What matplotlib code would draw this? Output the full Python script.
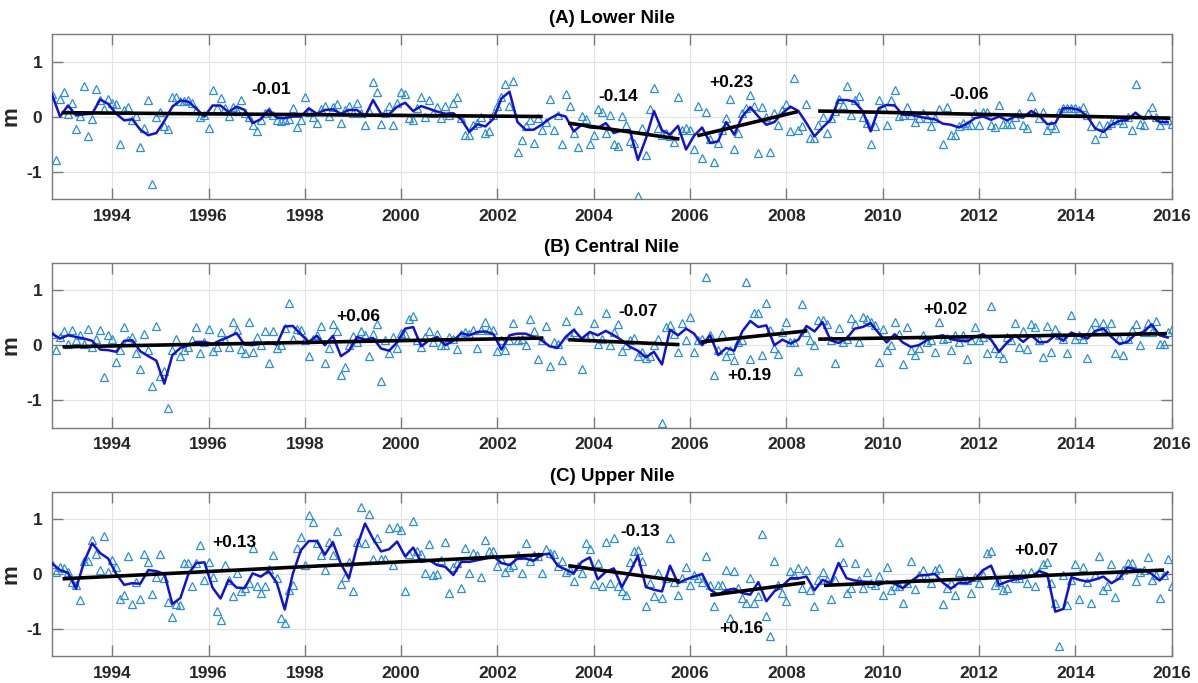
import numpy as np
import matplotlib.pyplot as plt

plt.rcParams['font.family'] = ['Liberation Sans', 'DejaVu Sans']
plt.rcParams['font.weight'] = 'bold'
plt.rcParams['axes.unicode_minus'] = False

START = 1992.75  # first month of the record (decimal year)

# ---- (A) Lower Nile ----
lower_line = [
    0.40, 0.0, 0.20, 0.02, 0.04, 0.05, 0.31, 0.23, 0.05, -0.07, -0.05, -0.24, -0.34, -0.30, -0.08, 0.18,
    0.29, 0.27, 0.14, 0.0, 0.20, 0.20, 0.08, 0.18, 0.12, -0.12, -0.05, 0.12, -0.02, -0.03, 0.0, 0.0,
    0.15, 0.05, 0.12, 0.13, 0.05, 0.12, 0.12, 0.0, 0.30, 0.05, 0.04, 0.18, 0.25, 0.10,
    0.19, 0.14, 0.09, 0.05, 0.06, -0.05, -0.28, -0.14, -0.18, -0.04, 0.33, 0.45, -0.10, -0.24, -0.24, -0.15,
    -0.04, 0.04, 0.0, -0.27, -0.15, -0.20, -0.21, -0.12, -0.30, -0.25, -0.25, -0.79, -0.40, 0.10, -0.25, -0.33,
    -0.17, -0.60, -0.35, -0.20, -0.48, -0.45, -0.10, -0.33, 0.0, 0.17, 0.0, -0.15, -0.10, 0.06, 0.18, 0.10,
    -0.12, -0.36, -0.20,
    -0.06, 0.30, 0.30, 0.27, 0.10, -0.27, 0.15, 0.21, 0.20, 0.03, 0.03, 0.0, -0.03, -0.05, -0.13, -0.15,
    -0.20, -0.13, -0.03, 0.0, -0.06, 0.0, -0.07, 0.0, -0.02, 0.10, 0.02, -0.14, -0.12, 0.15, 0.15, 0.12,
    0.0, -0.22, -0.28, -0.15, -0.08, -0.06, 0.07, -0.05, 0.0, -0.10, -0.10]
lower_tri = [
    0.41, -0.79, 0.32, 0.44, 0.04, 0.25, -0.22, 0.01, 0.56, -0.36, -0.04, 0.50, 0.30, 0.13, 0.32, 0.25,
    0.22, -0.50, 0.12, 0.18, -0.06, 0.01, -0.56, -0.20, 0.30, -1.22, -0.01, 0.08, -0.17, -0.22, 0.35, 0.36,
    0.29, 0.29, 0.30, 0.25, 0.12, 0.0, 0.02, -0.21, 0.48, 0.15, 0.34, 0.15, 0.01, 0.18, 0.10, 0.30,
    0.07, 0.0, -0.15, -0.27, -0.06, 0.06, 0.10, 0.03, -0.07, -0.09, -0.07, -0.04, 0.15, -0.19, -0.06, 0.36,
    0.09, 0.0, -0.12, 0.13, 0.19, 0.01, 0.18, 0.23, -0.12, 0.12, 0.19, 0.06, 0.25, 0.06, -0.15, 0.10,
    0.62, 0.45, -0.13, 0.06, 0.19, -0.16, 0.25, 0.45, 0.41, -0.03, -0.06,
    0.15, 0.35, 0.0, 0.30, 0.06, 0.18, -0.03, 0.19, 0.03, 0.24, 0.35, -0.03, -0.33, -0.33, -0.15, -0.12,
    0.0, -0.30, -0.27, 0.03, 0.20, 0.35, 0.59, 0.19, 0.64, -0.65, -0.42, -0.18, -0.07, -0.48, -0.03, -0.24,
    -0.10, 0.32, -0.24, 0.03, -0.50, 0.41, 0.19, -0.30, -0.56, 0.01, -0.05, -0.50, -0.33, 0.13, 0.09, -0.30,
    0.03, -0.50, -0.53, 0.01, -0.15, -0.45, -0.48, -1.45, -0.21, -0.70, 0.13, 0.52, -0.20, -0.33, -0.30, -0.36,
    -0.47, 0.36, -0.25, -0.20, -0.25, -0.59, 0.19, -0.76, 0.09, -0.40, -0.83, -0.48, -0.25, -0.03, 0.32, -0.59,
    -0.30, 0.06, 0.15, 0.39, 0.19, -0.67, 0.18, 0.0, -0.64, 0.06, -0.15, 0.12, 0.23, -0.27, 0.70, -0.24,
    -0.18, 0.23, -0.39, -0.39,
    -0.15, 0.0, -0.30, -0.03, 0.10, 0.32, 0.21, 0.55, 0.03, 0.30, 0.38, 0.0, -0.12, -0.50, -0.17, 0.30,
    0.18, -0.16, 0.30, 0.48, 0.01, 0.03, 0.18, 0.03, -0.10, -0.03, 0.06, -0.03, -0.17, -0.03, 0.14, -0.50,
    0.18, -0.33, -0.33, -0.17, -0.12, -0.15, -0.15, 0.06, -0.16, 0.09, 0.09, -0.16, -0.19, 0.21, -0.13, -0.13,
    -0.13, 0.0, 0.06, -0.15, -0.21, 0.38, 0.09, -0.03, 0.09, -0.24, -0.15, -0.20, 0.09, 0.15, 0.15, 0.15,
    0.15, 0.12, 0.18, 0.03, -0.17, -0.41, -0.15, -0.30, -0.15, -0.12, -0.06, -0.06, -0.12, -0.01, -0.25, 0.59,
    -0.13, -0.15, 0.06, 0.18, 0.0, -0.15, -0.06, -0.06, -0.14]
lower_seg_t = [(1992.95, 2002.94), (2003.47, 2005.78), (2006.15, 2008.24), (2008.66, 2015.97)]
lower_seg_v = [(0.07, 0.0), (-0.12, -0.41), (-0.35, 0.09), (0.10, -0.03)]
lower_rates = ['-0.01', '-0.14', '+0.23', '-0.06']
lower_rate_pos = [(1997.3, 0.49), (2004.5, 0.37), (2006.85, 0.62), (2011.8, 0.40)]

# ---- (B) Central Nile ----
central_line = [
    0.21, 0.12, 0.18, 0.15, 0.12, 0.08, -0.08, -0.09, -0.12, 0.08, 0.09, -0.11, -0.20, -0.28, -0.70, -0.18,
    -0.05, 0.0, 0.06, 0.06, 0.02, 0.09, 0.15, 0.22, 0.01, 0.0, 0.03, 0.05, 0.01, 0.34, 0.35, 0.20,
    0.06, 0.17, 0.0, 0.17, -0.20, -0.10, 0.15, 0.10, 0.13, -0.06, -0.10, 0.05, 0.30, 0.33,
    -0.02, 0.09, 0.15, 0.0, 0.08, 0.22, 0.18, 0.24, 0.25, 0.20, -0.08, 0.18, 0.21, 0.21, 0.15, 0.09,
    -0.02, -0.05, 0.15, 0.28, 0.12, 0.24, 0.18, 0.26, 0.18, 0.09, -0.03, -0.10, -0.22, -0.12, -0.35, 0.28,
    0.18, 0.30, 0.21, 0.0, 0.18, -0.18, -0.05, -0.10, 0.25, 0.44, 0.33, 0.36, 0.0, 0.10,
    0.03, 0.10, 0.35, 0.25, 0.42, 0.09, 0.04, 0.12, 0.30, 0.33, 0.40, 0.22, 0.05, 0.20, 0.05, -0.03,
    0.0, 0.09, 0.15, 0.18, 0.11, 0.08, 0.07, 0.15, 0.20, 0.10, -0.12, 0.05, 0.18, 0.06, 0.18, 0.05,
    0.06, 0.18, 0.08, 0.23, 0.17, 0.12, 0.26, 0.30, 0.15, 0.02, 0.06, 0.20, 0.24, 0.38, 0.18, 0.14]
central_tri = [
    0.20, -0.09, 0.15, 0.25, 0.02, 0.27, 0.10, 0.18, 0.03, 0.29, -0.03, 0.12, 0.27, -0.58, 0.19, 0.12,
    -0.30, -0.09, 0.33, 0.09, 0.15, -0.15, -0.44, 0.20, -0.09, -0.74, 0.35, -0.56, -0.47, -1.14, -0.09, 0.12,
    -0.19, -0.09, -0.03, 0.09, 0.33, -0.15, 0.06, 0.30, -0.11, -0.03, 0.24, 0.09, -0.03, 0.42, 0.27, -0.07,
    -0.15, 0.42, -0.12, 0.15, 0.0, 0.25, -0.33, 0.25, -0.05, 0.0, 0.32, 0.76, 0.12, 0.30, 0.28, 0.09,
    -0.20, 0.12, 0.18, 0.35, -0.33, -0.05, 0.38, 0.25, -0.55, -0.39, 0.0, 0.17, 0.06, 0.25, 0.18, -0.19,
    0.21, 0.38, -0.65, 0.09, -0.15, 0.15, -0.06, 0.23, 0.21, 0.47, 0.53,
    0.10, -0.03, 0.15, 0.25, 0.05, 0.21, 0.0, 0.01, 0.15, 0.12, -0.07, 0.21, 0.24, 0.21, 0.27, -0.06,
    0.27, 0.42, 0.27, 0.27, -0.11, 0.10, -0.08, 0.09, 0.41, 0.09, 0.12, 0.0, 0.47, 0.25, -0.25, 0.09,
    0.35, -0.38, 0.05, 0.03, -0.27, 0.44, 0.18, 0.24, 0.64, -0.44, 0.15, 0.18, 0.41, 0.03, 0.12, 0.59,
    0.0, 0.24, 0.39, -0.11, 0.0, 0.10, 0.13, -0.19, -0.13, -0.24, -0.19, 0.0, 0.11, -1.41, 0.33, 0.36,
    0.21, -0.13, 0.41, 0.09, 0.52, -0.12, 0.09, 0.12, 1.24, 0.18, -0.55, -0.09, 0.21, -0.19, -0.09, -0.27,
    0.06, 0.09, 1.14, -0.25, 0.59, 0.59, -0.18, 0.77, 0.27, -0.06, -0.16, 0.24, 0.42, 0.05, 0.06, -0.47,
    0.74, 0.24, 0.10, 0.0, 0.45,
    0.45, 0.38, 0.09, -0.33, 0.32, 0.05, 0.12, 0.50, 0.38, 0.05, 0.52, 0.47, 0.42, 0.36, -0.30, 0.30,
    -0.09, 0.0, 0.42, 0.21, -0.35, 0.33, -0.09, -0.18, -0.06, 0.19, 0.06, 0.09, -0.12, 0.42, 0.12, 0.13,
    -0.09, 0.19, 0.06, 0.19, -0.25, 0.09, 0.33, 0.09, 0.15, -0.14, 0.72, -0.06, -0.15, -0.23, 0.15, 0.09,
    0.41, -0.03, 0.25, -0.07, 0.39, 0.33, 0.09, -0.22, 0.35, -0.13, 0.29, 0.18, 0.12, -0.14, 0.55, 0.12,
    0.18, 0.12, -0.24, 0.30, 0.42, 0.30, 0.41, 0.25, 0.41, -0.14, 0.13, -0.17, 0.12, 0.27, 0.38, 0.01,
    0.24, 0.41, 0.24, 0.44, 0.03, 0.03, 0.24, 0.30]
central_seg_t = [(1992.97, 2002.95), (2003.47, 2005.78), (2006.23, 2008.43), (2008.66, 2015.9)]
central_seg_v = [(-0.03, 0.13), (0.10, 0.01), (0.06, 0.26), (0.11, 0.21)]
central_rates = ['+0.06', '-0.07', '+0.19', '+0.02']
central_rate_pos = [(1999.1, 0.53), (2004.93, 0.62), (2007.22, -0.56), (2011.3, 0.65)]

# ---- (C) Upper Nile ----
upper_line = [
    0.19, 0.07, 0.02, -0.27, 0.22, 0.56, 0.38, 0.28, 0.0, -0.20, -0.17, -0.18, 0.07, 0.05, 0.0, -0.55,
    -0.44, 0.0, 0.20, 0.21, -0.25, -0.45, -0.11, -0.25, -0.26, 0.01, -0.05, 0.05, -0.16, -0.65, 0.0, 0.43,
    0.60, 0.60, 0.35, 0.58, 0.18, -0.08, 0.50, 0.92, 0.64, 0.41, 0.45, 0.59, 0.32, 0.48,
    0.22, 0.25, 0.16, 0.13, -0.02, 0.22, 0.22, 0.25, 0.28, 0.32, 0.20, 0.16, 0.28, 0.28, 0.24, 0.35,
    0.37, 0.15, 0.08, 0.01, 0.22, 0.30, -0.10, 0.04, 0.10, -0.24, 0.03, 0.33, -0.24, -0.29, -0.32, 0.15,
    -0.17, -0.10, -0.05, 0.0, -0.29, -0.38, -0.30, -0.27, -0.35, -0.38, -0.15, -0.50, -0.32, -0.22, -0.08,
    -0.08, -0.05, -0.30, -0.11, -0.17, 0.20, -0.08, -0.12, -0.14, -0.15, -0.20, -0.14, -0.18, -0.26, -0.14, -0.03,
    -0.02, 0.0, -0.16, -0.27, -0.16, -0.17, -0.10, 0.07, 0.15, -0.20, -0.14, -0.10, -0.08, -0.05, 0.05, 0.0,
    -0.69, -0.64, -0.06, -0.11, -0.14, -0.10, -0.05, -0.17, -0.08, 0.12, 0.08, 0.07, 0.0, -0.12, 0.03]
upper_tri = [
    0.18, 0.03, 0.13, 0.10, 0.03, -0.14, -0.20, -0.47, 0.24, 0.24, 0.62, 0.36, 0.07, 0.69, 0.04, 0.25,
    0.13, -0.45, -0.38, 0.33, -0.55, -0.14, -0.45, 0.36, 0.22, -0.36, -0.05, 0.36, -0.08, -0.52, -0.78, -0.55,
    -0.56, 0.19, 0.19, -0.23, 0.19, 0.53, -0.11, 0.22, -0.05, -0.68, -0.84, 0.16, -0.11, -0.41, 0.01, -0.32,
    -0.26, -0.17, 0.48, -0.23, -0.35, -0.23, 0.09, 0.35, -0.08, -0.81, -0.90, -0.29, -0.21, 0.48, 0.68, 0.16,
    1.07, 0.95, 0.56, 0.35, 0.08, 0.58, 0.35, 0.79, -0.19, -0.05, 0.22, -0.31, 0.59, 1.22, 0.56, 1.09,
    0.28, 0.66, 0.28, 0.28, 0.83, 0.16, 0.86, 0.80, -0.32, 0.36, 0.97, 0.41,
    0.36, 0.01, 0.54, -0.02, -0.01, 0.25, 0.59, -0.35, 0.13, 0.19, -0.25, 0.48, 0.01, 0.38, 0.35, -0.05,
    0.62, 0.41, 0.41, 0.15, 0.28, 0.03, 0.13, 0.16, 0.35, 0.01, 0.56, 0.24, 0.35, 0.32, 0.01, 0.45,
    0.38, 0.37, 0.15, 0.24, 0.04, 0.07, -0.13, 0.15, 0.01, 0.56, 0.45, -0.19, 0.19, -0.23, 0.59, -0.17,
    0.66, -0.23, -0.32, -0.38, 0.22, 0.42, 0.44, 0.24, -0.59, -0.17, -0.41, 0.01, -0.44, -0.08, 0.66, -0.14,
    -0.39, -0.08, 0.12, -0.20, -0.02, -0.08, -0.14, 0.33, -0.20, -0.59, -0.21, -0.20, 0.07, -0.81, 0.05, -0.26,
    -0.44, -0.53, -0.08, -0.53, -0.41, 0.73, -0.76, -1.14, 0.24, -0.20, -0.35, -0.50, 0.05, -0.02, 0.10, -0.26,
    0.07, -0.29, -0.59, -0.11,
    0.03, -0.11, -0.45, -0.11, 0.58, 0.22, -0.35, -0.26, 0.19, -0.11, -0.26, 0.03, -0.17, -0.20, -0.03, -0.39,
    0.12, -0.29, -0.23, -0.23, -0.53, -0.17, 0.24, -0.27, -0.02, 0.07, -0.08, -0.17, 0.07, 0.10, -0.55, -0.26,
    -0.17, -0.38, 0.03, -0.11, -0.11, -0.35, -0.05, -0.17, -0.02, 0.38, 0.41, -0.20, -0.14, -0.29, -0.25, 0.0,
    -0.08, -0.07, 0.01, -0.17, 0.04, -0.22, 0.04, 0.18, 0.21, -0.17, -0.53, -1.32, -0.02, -0.56, -0.11, 0.18,
    -0.45, 0.12, -0.14, -0.53, -0.02, 0.33, -0.29, -0.23, 0.18, -0.43, -0.02, 0.07, 0.19, 0.19, -0.13, 0.04,
    0.07, 0.30, -0.11, -0.02, -0.44, -0.02, 0.27, -0.22]
upper_seg_t = [(1992.97, 2002.95), (2003.47, 2005.78), (2006.42, 2008.39), (2008.78, 2015.84)]
upper_seg_v = [(-0.09, 0.35), (0.15, -0.13), (-0.39, -0.16), (-0.21, 0.07)]
upper_rates = ['+0.13', '-0.13', '+0.16', '+0.07']
upper_rate_pos = [(1996.53, 0.58), (2004.96, 0.77), (2007.06, -1.0), (2013.18, 0.42)]

titles = ['(A) Lower Nile', '(B) Central Nile', '(C) Upper Nile']
year_ticks = list(range(1994, 2017, 2))

panels = [
    (lower_line, lower_tri, lower_seg_t, lower_seg_v, lower_rates, lower_rate_pos),
    (central_line, central_tri, central_seg_t, central_seg_v, central_rates, central_rate_pos),
    (upper_line, upper_tri, upper_seg_t, upper_seg_v, upper_rates, upper_rate_pos),
]

fig = plt.figure(figsize=(11.98, 6.83), dpi=100)
boxes = [(0.0434, 0.7086, 0.9346, 0.2416),
         (0.0434, 0.3738, 0.9346, 0.2416),
         (0.0434, 0.0395, 0.9346, 0.2405)]

for title, box, (line, tri, seg_t, seg_v, rates, rate_pos) in zip(titles, boxes, panels):
    ax = fig.add_axes(box)
    t_line = START + 2 * np.arange(len(line)) / 12.0
    t_tri = START + np.arange(len(tri)) / 12.0

    ax.plot(t_tri, tri, linestyle='none', marker='^', markersize=5.5,
            markerfacecolor='none', markeredgecolor='#2b8fd3', markeredgewidth=0.9, zorder=2)
    ax.plot(t_line, line, color='#1212d6', linewidth=1.8, zorder=3)
    for (t0, t1), (v0, v1) in zip(seg_t, seg_v):
        ax.plot([t0, t1], [v0, v1], color='black', linewidth=2.6, solid_capstyle='butt', zorder=4)
    for txt, (tx, ty) in zip(rates, rate_pos):
        ax.text(tx, ty, txt, ha='center', va='center', fontsize=12.5, fontweight='bold',
                color='black', zorder=5)

    ax.set_xlim(START, 2016.0)
    ax.set_ylim(-1.5, 1.5)
    ax.set_xticks(year_ticks)
    ax.set_yticks([-1, 0, 1])
    ax.grid(True, color='#e3e3e3', linewidth=0.8)
    ax.set_axisbelow(True)
    ax.tick_params(direction='in', length=8, width=1, top=True, right=True,
                   colors='#7a7a7a', labelcolor='#262626', labelsize=12.5, pad=7)
    for s in ax.spines.values():
        s.set_color('#7a7a7a')
        s.set_linewidth(1.0)
    ax.set_title(title, fontsize=13.5, fontweight='bold', pad=8)
    ax.set_ylabel('m', fontsize=16, fontweight='bold', color='#262626')
    ax.yaxis.set_label_coords(-0.027, 0.5)

fig.savefig('out.png', dpi=100)
